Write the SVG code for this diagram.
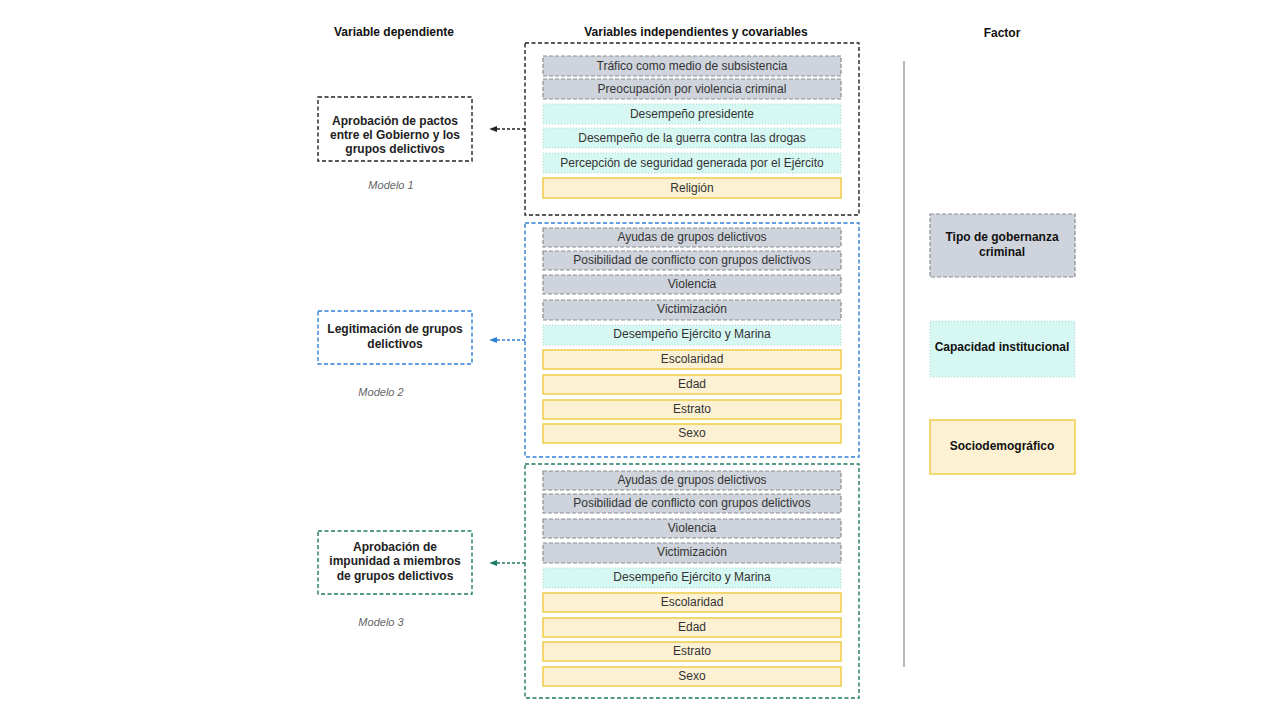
<svg xmlns="http://www.w3.org/2000/svg" width="1280" height="720" viewBox="0 0 1280 720">
<defs>
<style>
text{font-family:"Liberation Sans",Arial,sans-serif;}
.hdr{font-size:12px;font-weight:bold;fill:#111;text-anchor:middle;}
.row{font-size:12px;fill:#333;text-anchor:middle;}
.dv{font-size:12px;font-weight:bold;fill:#222;text-anchor:middle;}
.mod{font-size:11px;font-style:italic;fill:#666;text-anchor:middle;}
.g{fill:#cfd4dc;stroke:#8a8d92;stroke-width:1.2;stroke-dasharray:4 2;}
.c{fill:#d6f7f2;stroke:#aad8d2;stroke-width:1;stroke-dasharray:1 2;}
.y{fill:#fdf1d3;stroke:#f0cd47;stroke-width:1.5;}
.cont{fill:none;stroke-width:1.4;stroke-dasharray:4 2.5;}
.fac{font-size:12px;font-weight:bold;fill:#111;text-anchor:middle;}
</style>
<marker id="ak" viewBox="0 0 10 10" refX="9" refY="5" markerWidth="6" markerHeight="6" orient="auto-start-reverse"><path d="M0,1 L10,5 L0,9 z" fill="#222"/></marker>
<marker id="ab" viewBox="0 0 10 10" refX="9" refY="5" markerWidth="6" markerHeight="6" orient="auto-start-reverse"><path d="M0,1 L10,5 L0,9 z" fill="#2f7fd6"/></marker>
<marker id="ag" viewBox="0 0 10 10" refX="9" refY="5" markerWidth="6" markerHeight="6" orient="auto-start-reverse"><path d="M0,1 L10,5 L0,9 z" fill="#1e7a64"/></marker>
</defs>
<rect width="1280" height="720" fill="#fff"/>

<g id="headers">
<text class="hdr" x="394" y="36">Variable dependiente</text>
<text class="hdr" x="696" y="36">Variables independientes y covariables</text>
<text class="hdr" x="1002" y="37">Factor</text>
</g>

<!-- Model 1 -->
<g id="dv1">
<rect x="318" y="97" width="154" height="64" fill="#fff" stroke="#222" class="cont"/>
<text class="dv" x="395" y="125">Aprobación de pactos</text>
<text class="dv" x="395" y="139">entre el Gobierno y los</text>
<text class="dv" x="395" y="153">grupos delictivos</text>
<text class="mod" x="391" y="189">Modelo 1</text>
</g>
<g id="iv1">
<rect x="525" y="43" width="334" height="172" stroke="#222" class="cont"/>
<rect class="g" x="543" y="56" width="298" height="20"/><text class="row" x="692" y="70">Tráfico como medio de subsistencia</text>
<rect class="g" x="543" y="79" width="298" height="20"/><text class="row" x="692" y="93">Preocupación por violencia criminal</text>
<rect class="c" x="543" y="104" width="298" height="20"/><text class="row" x="692" y="118">Desempeño presidente</text>
<rect class="c" x="543" y="128" width="298" height="20"/><text class="row" x="692" y="142">Desempeño de la guerra contra las drogas</text>
<rect class="c" x="543" y="153" width="298" height="20"/><text class="row" x="692" y="167">Percepción de seguridad generada por el Ejército</text>
<rect class="y" x="543" y="178" width="298" height="20"/><text class="row" x="692" y="192">Religión</text>
</g>

<!-- Model 2 -->
<g id="dv2">
<rect x="318" y="311" width="154" height="53" fill="#fff" stroke="#2f7fd6" class="cont"/>
<text class="dv" x="395" y="333">Legitimación de grupos</text>
<text class="dv" x="395" y="348">delictivos</text>
<text class="mod" x="381" y="396">Modelo 2</text>
</g>
<g id="iv2">
<rect x="525" y="223" width="334" height="234" stroke="#2f7fd6" class="cont"/>
<rect class="g" x="543" y="228" width="298" height="19"/><text class="row" x="692" y="241">Ayudas de grupos delictivos</text>
<rect class="g" x="543" y="251" width="298" height="19"/><text class="row" x="692" y="264">Posibilidad de conflicto con grupos delictivos</text>
<rect class="g" x="543" y="275" width="298" height="19"/><text class="row" x="692" y="288">Violencia</text>
<rect class="g" x="543" y="300" width="298" height="20"/><text class="row" x="692" y="313">Victimización</text>
<rect class="c" x="543" y="325" width="298" height="20"/><text class="row" x="692" y="338">Desempeño Ejército y Marina</text>
<rect class="y" x="543" y="350" width="298" height="19"/><text class="row" x="692" y="363">Escolaridad</text>
<rect class="y" x="543" y="375" width="298" height="19"/><text class="row" x="692" y="388">Edad</text>
<rect class="y" x="543" y="400" width="298" height="19"/><text class="row" x="692" y="413">Estrato</text>
<rect class="y" x="543" y="424" width="298" height="19"/><text class="row" x="692" y="437">Sexo</text>
</g>

<!-- Model 3 -->
<g id="dv3">
<rect x="318" y="531" width="154" height="63" fill="#fff" stroke="#1e7a64" class="cont"/>
<text class="dv" x="395" y="551">Aprobación de</text>
<text class="dv" x="395" y="565">impunidad a miembros</text>
<text class="dv" x="395" y="580">de grupos delictivos</text>
<text class="mod" x="381" y="626">Modelo 3</text>
</g>
<g id="iv3">
<rect x="525" y="464" width="334" height="234" stroke="#1e7a64" class="cont"/>
<rect class="g" x="543" y="471" width="298" height="19"/><text class="row" x="692" y="484">Ayudas de grupos delictivos</text>
<rect class="g" x="543" y="494" width="298" height="19"/><text class="row" x="692" y="507">Posibilidad de conflicto con grupos delictivos</text>
<rect class="g" x="543" y="519" width="298" height="19"/><text class="row" x="692" y="532">Violencia</text>
<rect class="g" x="543" y="543" width="298" height="20"/><text class="row" x="692" y="556">Victimización</text>
<rect class="c" x="543" y="568" width="298" height="20"/><text class="row" x="692" y="581">Desempeño Ejército y Marina</text>
<rect class="y" x="543" y="593" width="298" height="19"/><text class="row" x="692" y="606">Escolaridad</text>
<rect class="y" x="543" y="618" width="298" height="19"/><text class="row" x="692" y="631">Edad</text>
<rect class="y" x="543" y="642" width="298" height="19"/><text class="row" x="692" y="655">Estrato</text>
<rect class="y" x="543" y="667" width="298" height="19"/><text class="row" x="692" y="680">Sexo</text>
</g>

<g id="connectors" fill="none" stroke-width="1.3" stroke-dasharray="3 2">
<line x1="525" y1="129" x2="490" y2="129" stroke="#222" marker-end="url(#ak)"/>
<line x1="525" y1="340" x2="490" y2="340" stroke="#2f7fd6" marker-end="url(#ab)"/>
<line x1="525" y1="563" x2="490" y2="563" stroke="#1e7a64" marker-end="url(#ag)"/>
</g>

<line x1="904" y1="61" x2="904" y2="667" stroke="#888" stroke-width="1.2"/>

<g id="f1">
<rect class="g" x="930" y="214" width="145" height="63"/>
<text class="fac" x="1002" y="241">Tipo de gobernanza</text>
<text class="fac" x="1002" y="256">criminal</text>
</g>
<g id="f2">
<rect class="c" x="930" y="321" width="145" height="56"/>
<text class="fac" x="1002" y="351">Capacidad institucional</text>
</g>
<g id="f3">
<rect class="y" x="930" y="420" width="145" height="54"/>
<text class="fac" x="1002" y="450">Sociodemográfico</text>
</g>
</svg>
